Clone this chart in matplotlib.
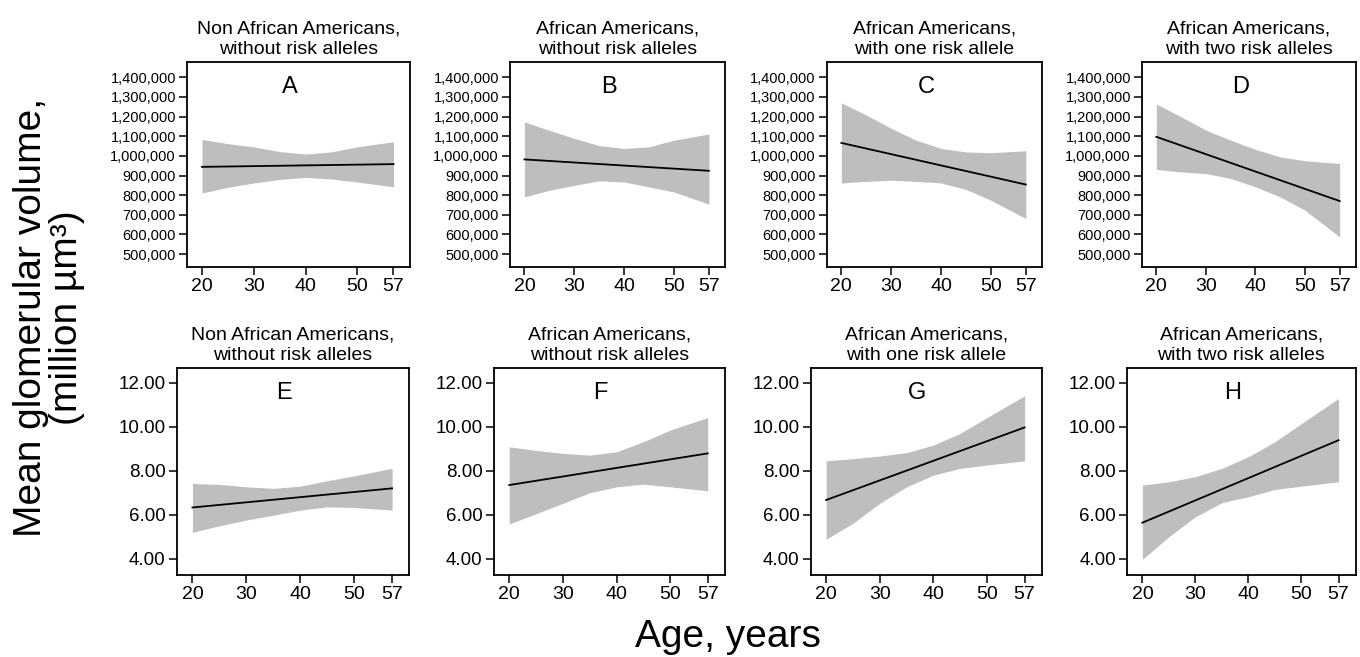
import matplotlib
matplotlib.use('Agg')
import matplotlib.pyplot as plt
from matplotlib.ticker import FuncFormatter
import numpy as np

plt.rcParams['font.family'] = ['Liberation Sans', 'DejaVu Sans']

# ages at which the confidence band was read
ages = [20, 25, 30, 35, 40, 45, 50, 57]
line_ages = [20, 57]

titles = ['Non African Americans,\nwithout risk alleles',
          'African Americans,\nwithout risk alleles',
          'African Americans,\nwith one risk allele',
          'African Americans,\nwith two risk alleles']

# top row: glomerular number (A-D)
fit_A = [944000, 958000]
upper_A = [1084000, 1062000, 1046000, 1022000, 1009000, 1020000, 1046000, 1072000]
lower_A = [811000, 840000, 862000, 880000, 890000, 882000, 867000, 842000]

fit_B = [982000, 924000]
upper_B = [1173000, 1130000, 1089000, 1052000, 1038000, 1046000, 1080000, 1111000]
lower_B = [791000, 825000, 850000, 873000, 867000, 842000, 816000, 754000]

fit_C = [1066000, 854000]
upper_C = [1270000, 1208000, 1140000, 1080000, 1038000, 1020000, 1016000, 1026000]
lower_C = [862000, 870000, 876000, 870000, 862000, 829000, 774000, 681000]

fit_D = [1097000, 770000]
upper_D = [1264000, 1199000, 1131000, 1080000, 1033000, 995000, 975000, 961000]
lower_D = [931000, 918000, 910000, 885000, 842000, 791000, 723000, 587000]

# bottom row: mean glomerular volume (E-H)
fit_E = [6.33, 7.20]
upper_E = [7.42, 7.38, 7.27, 7.20, 7.30, 7.55, 7.77, 8.11]
lower_E = [5.20, 5.50, 5.76, 5.98, 6.21, 6.36, 6.33, 6.21]

fit_F = [7.35, 8.79]
upper_F = [9.09, 8.92, 8.79, 8.71, 8.86, 9.32, 9.85, 10.42]
lower_F = [5.58, 6.05, 6.52, 7.00, 7.27, 7.39, 7.27, 7.09]

fit_G = [6.67, 9.97]
upper_G = [8.45, 8.55, 8.67, 8.82, 9.17, 9.70, 10.42, 11.41]
lower_G = [4.89, 5.61, 6.52, 7.27, 7.80, 8.11, 8.26, 8.45]

fit_H = [5.64, 9.39]
upper_H = [7.35, 7.50, 7.73, 8.11, 8.64, 9.32, 10.15, 11.29]
lower_H = [3.97, 5.00, 5.91, 6.55, 6.82, 7.15, 7.30, 7.50]

x_ticks = [20, 30, 40, 50, 57]
top_yticks = [500000, 600000, 700000, 800000, 900000, 1000000, 1100000, 1200000, 1300000, 1400000]
bottom_yticks = [4, 6, 8, 10, 12]

panels = [
    ('A', fit_A, upper_A, lower_A), ('B', fit_B, upper_B, lower_B),
    ('C', fit_C, upper_C, lower_C), ('D', fit_D, upper_D, lower_D),
    ('E', fit_E, upper_E, lower_E), ('F', fit_F, upper_F, lower_F),
    ('G', fit_G, upper_G, lower_G), ('H', fit_H, upper_H, lower_H),
]

# axes rectangles in figure fraction [left, bottom, width, height]
rects = [
    [0.1375, 0.5936, 0.164, 0.312], [0.375, 0.5936, 0.158, 0.312],
    [0.608, 0.5936, 0.158, 0.312], [0.8397, 0.5936, 0.157, 0.312],
    [0.130, 0.1248, 0.171, 0.315], [0.363, 0.1248, 0.170, 0.315],
    [0.596, 0.1248, 0.170, 0.315], [0.8287, 0.1248, 0.168, 0.315],
]

fig = plt.figure(figsize=(13.6, 6.57), dpi=100)

for i, (letter, fit, up, lo) in enumerate(panels):
    ax = fig.add_axes(rects[i])
    ax.fill_between(ages, lo, up, color='#bebebe', linewidth=0)
    ax.plot(line_ages, fit, color='black', linewidth=1.3)
    ax.set_xlim(17.1, 60.2)
    ax.set_xticks(x_ticks)
    ax.tick_params(axis='x', labelsize=14, length=6, width=1.1, pad=2)
    if i < 4:
        ax.set_ylim(434000, 1478000)
        ax.set_yticks(top_yticks)
        ax.yaxis.set_major_formatter(FuncFormatter(lambda v, p: f'{int(v):,}'))
        ax.tick_params(axis='y', labelsize=10.5, length=6, width=1.1, pad=2)
    else:
        ax.set_ylim(3.26, 12.67)
        ax.set_yticks(bottom_yticks)
        ax.yaxis.set_major_formatter(FuncFormatter(lambda v, p: f'{v:.2f}'))
        ax.tick_params(axis='y', labelsize=13.5, length=6, width=1.1, pad=2)
    for s in ax.spines.values():
        s.set_linewidth(1.3)
    ax.set_title(titles[i % 4], fontsize=14, pad=6, linespacing=1.25)
    ax.text(37, 0.88, letter, transform=ax.get_xaxis_transform(),
            ha='center', va='center', fontsize=17)

fig.text(0.036, 0.517, 'Mean glomerular volume,\n(million µm³)', rotation=90,
         ha='center', va='center', multialignment='center', fontsize=28, linespacing=1.0)
fig.text(0.535, 0.030, 'Age, years', ha='center', va='center', fontsize=28)

fig.savefig('out.png', dpi=100)
